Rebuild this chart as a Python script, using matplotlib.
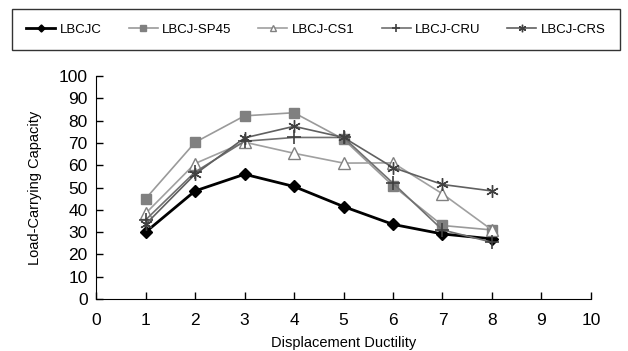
import matplotlib
matplotlib.use("Agg")
import matplotlib.pyplot as plt

x = [1, 2, 3, 4, 5, 6, 7, 8]
lbcjc = [30, 48.5, 56, 50.5, 41.5, 33.5, 29.2, 27]
sp45 = [45, 70.3, 82.2, 83.6, 71.7, 50.8, 33, 31]
cs1 = [38.4, 60.8, 70.4, 65.4, 61, 61.1, 47.2, 31]
cru = [35.5, 57, 70.8, 72.5, 72.5, 52, 31, 25.5]
crs = [33.5, 56, 72.3, 77.5, 72.5, 59, 51.4, 48.5]
labels = ["LBCJC", "LBCJ-SP45", "LBCJ-CS1", "LBCJ-CRU", "LBCJ-CRS"]

plt.rcParams['font.family'] = ['Liberation Sans', 'DejaVu Sans']
fig = plt.figure(figsize=(6.28, 3.51), dpi=100)
ax = fig.add_axes([0.153, 0.148, 0.788, 0.635])

h1, = ax.plot(x, lbcjc, color='black', lw=2, marker='D', ms=6, mfc='black', mec='black', label=labels[0])
h2, = ax.plot(x, sp45, color='#9a9a9a', lw=1.2, marker='s', ms=7, mfc='#808080', mec='#808080', label=labels[1])
h3, = ax.plot(x, cs1, color='#a0a0a0', lw=1.2, marker='^', ms=8, mfc='white', mec='#808080', label=labels[2])
h4, = ax.plot(x, cru, color='#707070', lw=1.2, marker='+', ms=10, mec='#404040', mew=1.2, label=labels[3])
h5, = ax.plot(x, crs, color='#606060', lw=1.2, marker=(6, 2, 0), ms=9, mec='#404040', mew=1.0, label=labels[4])

ax.set_xlim(0, 10)
ax.set_ylim(0, 100)
ax.set_xticks(range(0, 11))
ax.set_yticks(range(0, 101, 10))
ax.spines['top'].set_visible(False)
ax.spines['right'].set_visible(False)
ax.tick_params(direction='in', length=5, labelsize=12.5, width=1)
ax.tick_params(axis='x', pad=10)
ax.tick_params(axis='y', pad=6)
ax.set_xlabel("Displacement Ductility", fontsize=10.5, va='center')
ax.xaxis.set_label_coords(0.5, -0.195)
ax.set_ylabel("Load-Carrying Capacity", fontsize=10.5, labelpad=12)

leg = fig.legend(handles=[h1, h2, h3, h4, h5], loc='center', bbox_to_anchor=(0.019, 0.858, 0.968, 0.114),
                 mode='expand', ncol=5, frameon=True, fancybox=False, fontsize=9.5,
                 handlelength=2.2, handletextpad=0.3, borderaxespad=0, borderpad=1.1,
                 markerscale=0.6)
leg.get_frame().set_edgecolor('black')
leg.get_frame().set_linewidth(1)

fig.savefig("out.png", dpi=100)
